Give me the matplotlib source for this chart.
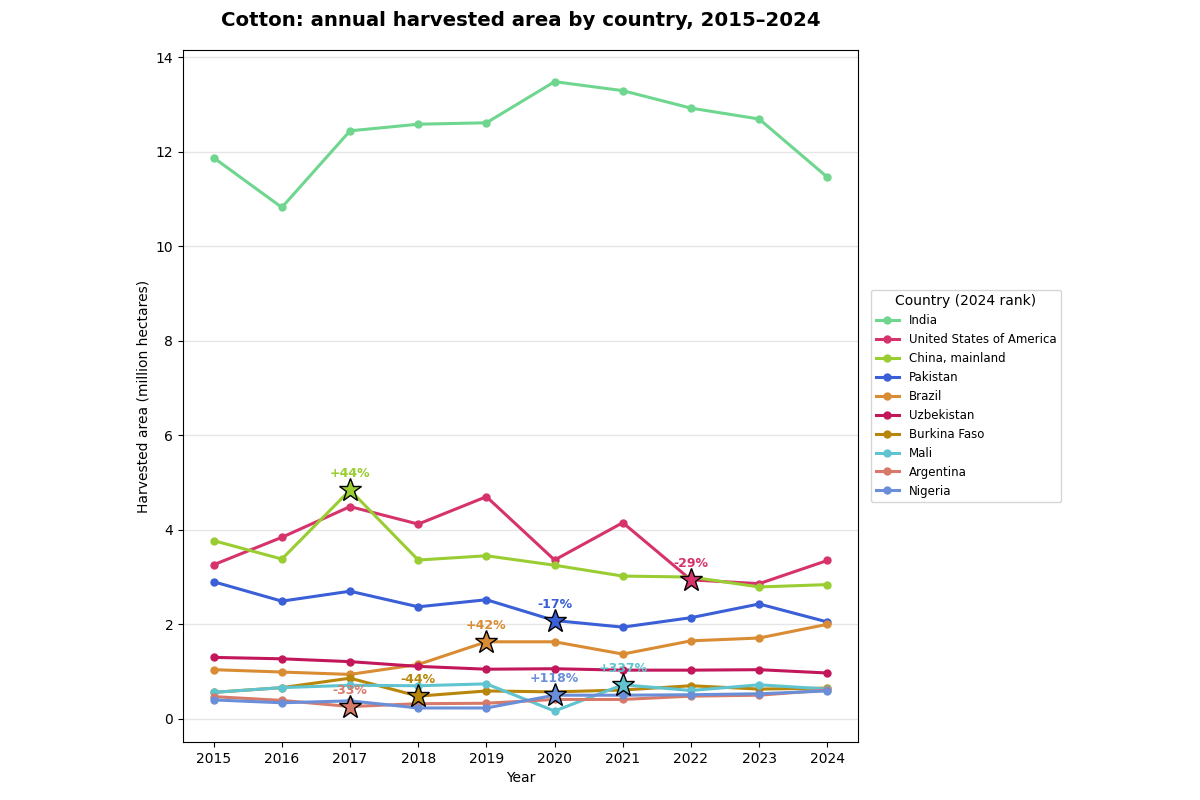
import matplotlib
matplotlib.use("Agg")
import matplotlib.pyplot as plt

# Harvested area, million hectares
years = [2015, 2016, 2017, 2018, 2019, 2020, 2021, 2022, 2023, 2024]
countries = ["India", "United States of America", "China, mainland", "Pakistan",
             "Brazil", "Uzbekistan", "Burkina Faso", "Mali", "Argentina", "Nigeria"]

india = [11.87, 10.82, 12.44, 12.58, 12.61, 13.48, 13.29, 12.92, 12.69, 11.46]
usa = [3.26, 3.84, 4.49, 4.12, 4.70, 3.36, 4.15, 2.94, 2.86, 3.35]
china = [3.77, 3.38, 4.84, 3.36, 3.45, 3.25, 3.02, 3.00, 2.79, 2.84]
pakistan = [2.90, 2.49, 2.70, 2.37, 2.52, 2.08, 1.94, 2.14, 2.43, 2.05]
brazil = [1.04, 0.99, 0.94, 1.15, 1.63, 1.63, 1.37, 1.65, 1.71, 2.00]
uzbekistan = [1.30, 1.27, 1.21, 1.11, 1.05, 1.06, 1.03, 1.03, 1.04, 0.97]
burkina = [0.56, 0.66, 0.86, 0.48, 0.59, 0.57, 0.61, 0.70, 0.63, 0.65]
mali = [0.56, 0.66, 0.71, 0.70, 0.74, 0.165, 0.72, 0.60, 0.72, 0.63]
argentina = [0.47, 0.39, 0.26, 0.32, 0.33, 0.41, 0.41, 0.48, 0.50, 0.61]
nigeria = [0.40, 0.34, 0.38, 0.23, 0.23, 0.50, 0.50, 0.51, 0.53, 0.59]

series = [india, usa, china, pakistan, brazil, uzbekistan, burkina, mali, argentina, nigeria]
colors = ["#6fd68f", "#d6336c", "#9acd32", "#3a5fd6", "#d98c33",
          "#c2185b", "#b8860b", "#5fc4d0", "#d87a6a", "#6a8fd8"]

# largest year-over-year change per country: (year, label)
highlights = {
    "United States of America": (2022, "-29%"),
    "China, mainland": (2017, "+44%"),
    "Pakistan": (2020, "-17%"),
    "Brazil": (2019, "+42%"),
    "Burkina Faso": (2018, "-44%"),
    "Mali": (2021, "+337%"),
    "Argentina": (2017, "-33%"),
    "Nigeria": (2020, "+118%"),
}

fig = plt.figure(figsize=(12, 8), dpi=100)
ax = fig.add_axes([0.1525, 0.0725, 0.5625, 0.865])

for name, vals, col in zip(countries, series, colors):
    ax.plot(years, vals, color=col, lw=2.2, marker="o", ms=5, label=name, zorder=3)

for name, vals, col in zip(countries, series, colors):
    if name not in highlights:
        continue
    yr, lab = highlights[name]
    v = vals[years.index(yr)]
    ax.plot([yr], [v], marker="*", ms=17, color=col, mec="black", mew=1.0, zorder=5)
    ax.annotate(lab, (yr, v), xytext=(0, 7), textcoords="offset points",
                ha="center", va="bottom", color=col, fontsize=9, fontweight="bold", zorder=6)

ax.set_xlim(2014.55, 2024.45)
ax.set_ylim(-0.49, 14.15)
ax.set_xticks(years)
ax.set_yticks([0, 2, 4, 6, 8, 10, 12, 14])
ax.yaxis.grid(True, color="#e6e6e6", lw=1)
ax.set_axisbelow(True)
ax.tick_params(labelsize=10)
ax.set_xlabel("Year", fontsize=10)
ax.set_ylabel("Harvested area (million hectares)", fontsize=10)
ax.set_title("Cotton: annual harvested area by country, 2015\u20132024",
             fontsize=14.2, fontweight="bold", pad=17)

ax.legend(title="Country (2024 rank)", loc="center left", bbox_to_anchor=(1.019, 0.5),
          borderaxespad=0, fontsize=8.5, title_fontsize=10, frameon=True)

fig.savefig("out.png", dpi=100)
